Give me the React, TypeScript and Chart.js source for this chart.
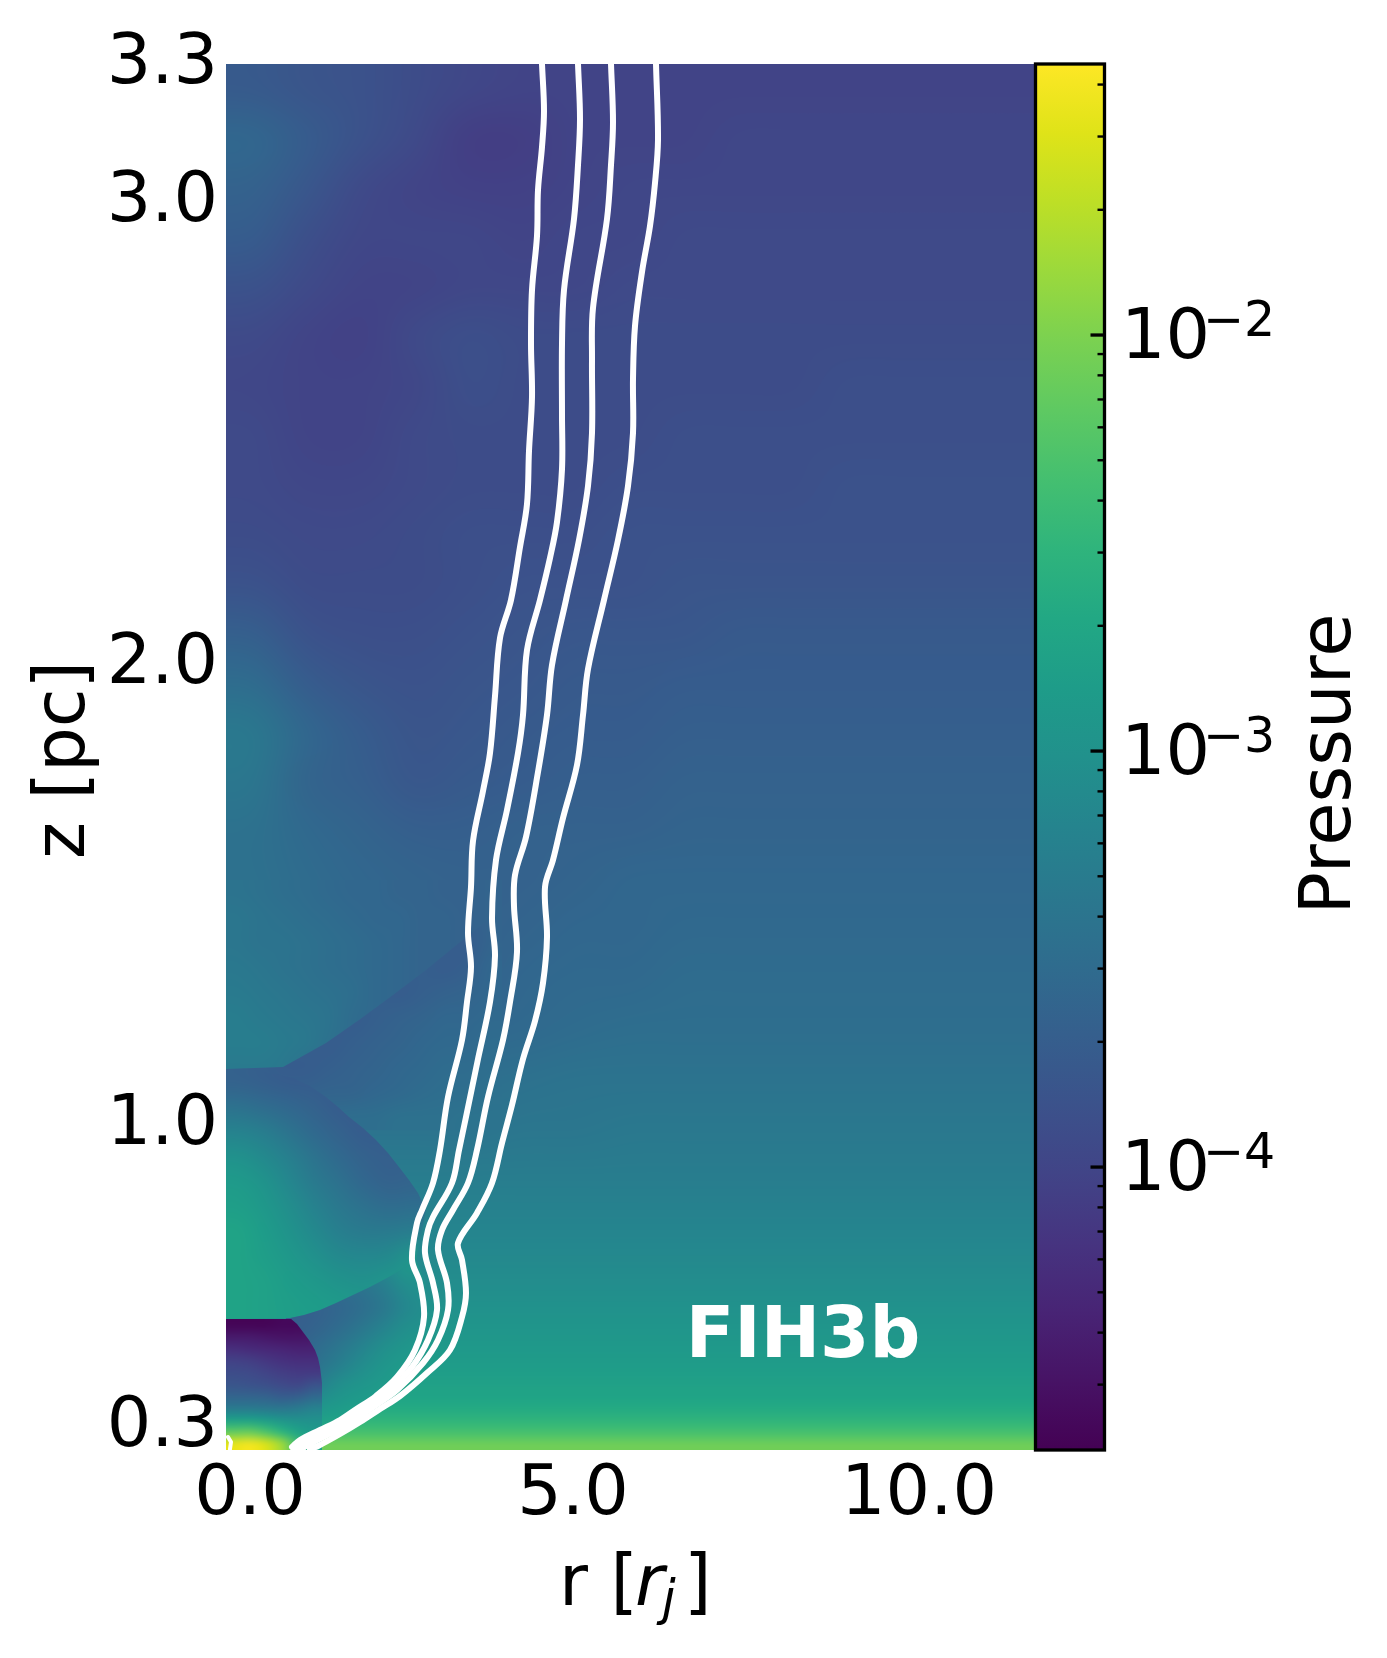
import React, { useEffect, useRef } from "react";
import { Chart, registerables } from "chart.js";

Chart.register(...registerables);

// Axis extents are in simulation grid cells (the tick labels sit on selected cells).
const gridRMax = 809;
const gridZMax = 1386;
const xTickCells = [24, 347, 693];
const xTickLabels = ["0.0", "5.0", "10.0"];
const yTickCells = [1385, 1247, 785, 324, 22];
const yTickLabels = ["3.3", "3.0", "2.0", "1.0", "0.3"];

const pressureMin = 2.089e-5;
const pressureMax = 0.04482;
const colorbarMajor = [1e-4, 1e-3, 1e-2];
const colorbarExponents = ["\u22124", "\u22123", "\u22122"];
const colorbarMinor = [3e-5, 4e-5, 5e-5, 6e-5, 7e-5, 8e-5, 9e-5, 2e-4, 3e-4, 4e-4, 5e-4, 6e-4, 7e-4, 8e-4, 9e-4, 2e-3, 3e-3, 4e-3, 5e-3, 6e-3, 7e-3, 8e-3, 9e-3, 2e-2, 3e-2, 4e-2];

const viridisStops = ["#440154", "#471365", "#482475", "#463480", "#414487", "#3b528b", "#355f8d", "#2f6c8e", "#2a788e", "#25848e", "#21918c", "#1e9c89", "#22a884", "#2fb47c", "#44bf70", "#5ec962", "#7ad151", "#9bd93c", "#bddf26", "#dfe318", "#fde725"];

// Pressure fields: percent of the colour bar's range, rows listed top to bottom.
const farField = [
  [28, 26, 25, 23, 21, 20, 20, 20, 20, 20, 20, 20, 20, 20, 20],
  [33, 29, 25, 22, 18, 18, 20, 20, 20, 21, 21, 21, 21, 21, 21],
  [31, 27, 22, 20, 19, 19, 20, 21, 21, 21, 21, 21, 21, 21, 21],
  [29, 24, 21, 21, 21, 20, 21, 21, 22, 22, 22, 22, 22, 22, 22],
  [25, 22, 20, 20, 21, 21, 21, 22, 22, 22, 22, 22, 22, 22, 22],
  [22, 20, 19, 22, 24, 23, 23, 23, 23, 23, 23, 23, 23, 23, 23],
  [21, 20, 20, 21, 24, 23, 23, 23, 23, 23, 23, 24, 24, 24, 24],
  [22, 20, 20, 22, 23, 23, 23, 23, 24, 24, 24, 24, 24, 24, 24],
  [22, 21, 21, 22, 23, 23, 23, 24, 24, 24, 24, 25, 25, 25, 25],
  [23, 22, 22, 23, 24, 24, 24, 25, 25, 25, 25, 25, 25, 25, 25],
  [25, 23, 23, 23, 24, 25, 25, 25, 26, 26, 26, 26, 26, 26, 26],
  [30, 25, 24, 24, 25, 26, 27, 27, 27, 28, 28, 28, 28, 28, 28],
  [35, 29, 26, 25, 26, 27, 28, 28, 29, 29, 29, 29, 29, 29, 29],
  [40, 33, 29, 26, 27, 28, 29, 29, 30, 30, 30, 30, 30, 30, 30],
  [39, 32, 30, 27, 28, 29, 30, 30, 31, 31, 31, 31, 31, 31, 31],
  [37, 34, 32, 30, 30, 31, 31, 31, 32, 32, 32, 32, 32, 32, 32],
  [37, 35, 33, 32, 31, 31, 32, 33, 33, 33, 33, 33, 33, 33, 33],
  [38, 36, 34, 32, 31, 32, 33, 33, 34, 34, 34, 34, 34, 34, 34],
  [38, 37, 35, 33, 31, 33, 34, 34, 35, 35, 35, 35, 35, 35, 35],
  [41, 39, 36, 32, 33, 34, 35, 36, 36, 36, 36, 36, 36, 36, 36],
  [36, 35, 34, 34, 36, 37, 38, 38, 38, 38, 38, 38, 38, 38, 38],
  [38, 38, 38, 38, 38, 39, 39, 40, 40, 40, 40, 40, 40, 40, 40],
  [42, 42, 42, 42, 42, 42, 42, 42, 42, 42, 42, 42, 42, 42, 42],
  [45, 45, 45, 45, 45, 45, 45, 45, 45, 45, 45, 45, 45, 45, 45],
  [48, 48, 48, 48, 48, 48, 48, 48, 48, 48, 48, 48, 48, 48, 48],
  [52, 52, 52, 52, 52, 52, 52, 52, 52, 52, 52, 52, 52, 52, 52],
  [56, 56, 56, 56, 56, 56, 56, 56, 56, 56, 56, 56, 56, 56, 56],
  [62, 62, 62, 62, 62, 62, 62, 62, 62, 62, 62, 62, 62, 62, 62],
];
// Low side of the oblique shock running up from the bubble.
const shoulderField = [
  [31, 31, 31, 31, 31, 31, 31, 31, 31, 31, 31, 32],
  [31, 31, 31, 31, 31, 31, 31, 31, 31, 31, 30, 32],
  [31, 31, 31, 31, 31, 31, 31, 31, 31, 30, 29, 32],
  [30, 30, 30, 30, 30, 30, 30, 30, 30, 29, 30, 33],
  [30, 30, 30, 30, 30, 30, 30, 29, 30, 31, 32, 33],
  [30, 30, 30, 30, 30, 29, 30, 31, 32, 33, 33, 34],
  [30, 30, 30, 30, 29, 30, 31, 32, 33, 34, 34, 35],
  [30, 30, 29, 29, 30, 31, 32, 33, 34, 35, 35, 36],
  [31, 31, 31, 31, 32, 32, 33, 34, 35, 36, 36, 37],
  [37, 37, 36, 35, 35, 36, 36, 37, 37, 37, 38, 38],
];
// High side of that shock.
const wedgeField = [
  [38, 37, 36, 35, 34, 33, 33, 32, 32, 31, 31, 32],
  [39, 38, 37, 36, 35, 34, 33, 33, 32, 32, 31, 32],
  [39, 38, 38, 37, 36, 35, 34, 33, 32, 32, 31, 32],
  [40, 39, 38, 37, 36, 35, 34, 33, 32, 32, 32, 32],
  [41, 40, 39, 38, 37, 36, 34, 33, 32, 32, 32, 32],
  [42, 41, 40, 39, 38, 35, 34, 33, 32, 32, 32, 32],
  [42, 42, 41, 40, 37, 35, 33, 33, 32, 32, 32, 32],
  [41, 41, 40, 37, 35, 34, 33, 33, 32, 32, 32, 32],
];
const floorField = [
  [58, 58],
  [60, 60],
  [63, 63],
  [67, 67],
  [72, 72],
  [78, 78],
];
const bubbleField = [
  [31, 30, 29, 29, 29, 31, 33, 35],
  [37, 35, 33, 31, 29, 29, 32, 35],
  [44, 42, 38, 34, 31, 29, 30, 33],
  [50, 47, 43, 38, 34, 31, 30, 31],
  [54, 51, 46, 41, 37, 33, 31, 32],
  [56, 53, 49, 44, 40, 37, 35, 36],
  [58, 55, 51, 47, 43, 41, 41, 42],
  [58, 56, 53, 50, 47, 46, 47, 52],
  [58, 57, 55, 53, 51, 50, 52, 52],
  [58, 57, 56, 55, 54, 53, 52, 52],
];
const cavityField = [
  [40, 40, 40, 42, 46, 52, 50, 46],
  [34, 34, 36, 38, 42, 48, 50, 47],
  [30, 31, 33, 36, 40, 46, 49, 48],
  [30, 32, 35, 39, 44, 49, 50, 49],
  [31, 35, 39, 44, 49, 52, 53, 50],
  [32, 38, 43, 48, 52, 54, 54, 52],
  [33, 43, 49, 52, 54, 55, 55, 55],
  [42, 50, 53, 55, 56, 57, 57, 57],
  [50, 57, 58, 60, 60, 60, 60, 62],
  [56, 64, 65, 66, 70, 70, 72, 76],
];
const domeField = [
  [1, 1, 1, 2, 2, 3],
  [7, 7, 6, 5, 5, 6],
  [13, 12, 11, 10, 9, 9],
  [19, 18, 16, 14, 13, 13],
  [23, 22, 20, 18, 17, 17],
  [26, 25, 24, 22, 21, 25],
  [32, 32, 31, 29, 30, 34],
  [41, 41, 40, 39, 41, 44],
  [57, 57, 55, 52, 50, 50],
  [76, 77, 72, 65, 58, 54],
  [96, 98, 94, 85, 68, 58],
];

// Region outlines (grid cells) of the shocked features.
const wedgeOutlineR = [0, 276, 276, 262, 233, 200, 167, 133, 100, 57, 0];
const wedgeOutlineZ = [570, 570, 545, 530, 507, 480, 455, 430, 407, 383, 381];
const bubbleOutlineR = [0, 17, 33, 50, 67, 84, 100, 112, 123, 137, 150, 162, 173, 183, 192, 200, 190, 184, 161, 144, 127, 110, 94, 78, 64, 0];
const bubbleOutlineZ = [381, 381, 379, 376, 372, 364, 353, 343, 333, 322, 310, 297, 283, 270, 257, 240, 190, 185, 172, 163, 155, 147, 140, 135, 132, 131];
const cavityOutlineR = [64, 78, 94, 110, 127, 144, 161, 184, 190, 200, 200, 190, 172, 145, 115, 75, 64, 0, 0];
const cavityOutlineZ = [132, 135, 140, 147, 155, 163, 172, 185, 190, 167, 133, 100, 73, 50, 30, 10, 0, 0, 131];
const domeOutlineR = [0, 64, 71, 77, 83, 89, 92, 94, 95, 96, 96, 0];
const domeOutlineZ = [131, 132, 126, 118, 110, 100, 92, 83, 75, 67, 0, 0];

// Field lines (grid cells).
const lineAR = [316, 318, 316, 312, 311, 306, 305, 306, 303, 301, 294, 285, 274, 269, 264, 257, 247, 245, 242, 245, 241, 236, 222, 214, 207, 196, 191, 186, 194, 198, 189, 171, 150, 129, 114, 94, 74, 66];
const lineAZ = [1386, 1339, 1303, 1260, 1214, 1160, 1106, 1053, 999, 946, 903, 850, 812, 754, 697, 659, 609, 563, 517, 483, 448, 410, 353, 300, 267, 240, 227, 190, 167, 133, 100, 73, 54, 40, 30, 20, 10, 3];
const lineBR = [352, 354, 352, 348, 338, 336, 336, 336, 331, 324, 314, 301, 297, 292, 281, 270, 266, 269, 264, 252, 240, 233, 226, 207, 202, 199, 207, 211, 202, 186, 164, 144, 124, 114, 94, 76, 70];
const lineBZ = [1386, 1331, 1285, 1231, 1160, 1106, 1035, 981, 928, 892, 850, 800, 735, 697, 640, 590, 532, 494, 448, 391, 333, 300, 267, 233, 220, 197, 167, 140, 110, 83, 60, 44, 32, 26, 15, 6, 1];
const lineCR = [385, 387, 385, 381, 367, 366, 366, 362, 353, 340, 326, 321, 312, 300, 289, 288, 291, 284, 277, 262, 251, 242, 227, 216, 212, 221, 222, 212, 197, 171, 150, 131, 114, 99, 80, 76];
const lineCZ = [1386, 1328, 1285, 1231, 1142, 1089, 1017, 964, 910, 850, 785, 735, 678, 613, 575, 544, 498, 448, 410, 353, 300, 267, 240, 220, 200, 167, 140, 110, 87, 60, 45, 32, 21, 14, 4, 1];
const lineDR = [430, 432, 429, 424, 416, 409, 407, 407, 402, 392, 378, 362, 357, 351, 337, 327, 319, 321, 317, 309, 297, 286, 276, 266, 251, 232, 236, 240, 236, 224, 201, 174, 154, 134, 114, 92, 84];
const lineDZ = [1386, 1310, 1267, 1224, 1178, 1124, 1071, 1017, 964, 910, 850, 781, 735, 685, 632, 590, 563, 513, 467, 429, 391, 345, 307, 267, 237, 207, 190, 157, 133, 100, 77, 54, 41, 28, 16, 4, 1];
const stubR = [4, 5, 2];
const stubZ = [1, 8, 13];

const tickFont = "'DejaVu Sans'";

function hexRgb(h: string) {
  return [parseInt(h.slice(1, 3), 16), parseInt(h.slice(3, 5), 16), parseInt(h.slice(5, 7), 16)];
}
function viridis(pct: number) {
  const p = (Math.max(0, Math.min(100, pct)) / 100) * (viridisStops.length - 1);
  const i = Math.min(Math.floor(p), viridisStops.length - 2);
  const a = hexRgb(viridisStops[i]);
  const b = hexRgb(viridisStops[i + 1]);
  const f = p - i;
  return [0, 1, 2].map((k) => a[k] + (b[k] - a[k]) * f);
}
function fieldImage(field: number[][]) {
  const c = document.createElement("canvas");
  c.width = field[0].length;
  c.height = field.length;
  const cx = c.getContext("2d")!;
  const img = cx.createImageData(c.width, c.height);
  field.forEach((row, j) =>
    row.forEach((v, i) => {
      const rgb = viridis(v);
      const o = (j * c.width + i) * 4;
      img.data[o] = rgb[0];
      img.data[o + 1] = rgb[1];
      img.data[o + 2] = rgb[2];
      img.data[o + 3] = 255;
    })
  );
  cx.putImageData(img, 0, 0);
  return c;
}

const fieldPlugin = {
  id: "fieldPlugin",
  beforeDatasetsDraw(chart: any) {
    const { ctx, scales, chartArea } = chart;
    const X = scales.x;
    const Y = scales.y;
    const paint = (field: number[][], r0: number, r1: number, z0: number, z1: number, outR?: number[], outZ?: number[]) => {
      ctx.save();
      ctx.beginPath();
      if (outR && outZ) {
        outR.forEach((r, i) => {
          const px = X.getPixelForValue(r);
          const py = Y.getPixelForValue(outZ[i]);
          if (i === 0) ctx.moveTo(px, py);
          else ctx.lineTo(px, py);
        });
        ctx.closePath();
      } else {
        ctx.rect(chartArea.left, chartArea.top, chartArea.right - chartArea.left, chartArea.bottom - chartArea.top);
      }
      ctx.clip();
      ctx.imageSmoothingEnabled = true;
      ctx.imageSmoothingQuality = "high";
      const x0 = X.getPixelForValue(r0);
      const x1 = X.getPixelForValue(r1);
      const y0 = Y.getPixelForValue(z1);
      const y1 = Y.getPixelForValue(z0);
      ctx.drawImage(fieldImage(field), x0, y0, x1 - x0, y1 - y0);
      ctx.restore();
    };
    paint(farField, 0, gridRMax, 0, gridZMax);
    paint(shoulderField, 0, 276, 320, 570);
    paint(wedgeField, 0, 276, 370, 570, wedgeOutlineR, wedgeOutlineZ);
    paint(floorField, 0, gridRMax, 0, 60);
    paint(bubbleField, 0, 200, 131, 381, bubbleOutlineR, bubbleOutlineZ);
    paint(cavityField, 60, 234, 0, 190, cavityOutlineR, cavityOutlineZ);
    paint(domeField, 0, 96, 0, 131, domeOutlineR, domeOutlineZ);
  },
  afterDraw(chart: any) {
    const { ctx, scales, chartArea } = chart;
    const cb = scales.cb;
    const left = 1035.5;
    const right = 1104.5;
    // colour bar
    const grad = ctx.createLinearGradient(0, chartArea.bottom, 0, chartArea.top);
    viridisStops.forEach((c, i) => grad.addColorStop(i / (viridisStops.length - 1), c));
    ctx.save();
    ctx.fillStyle = grad;
    ctx.fillRect(left, chartArea.top, right - left, chartArea.bottom - chartArea.top);
    ctx.strokeStyle = "#000";
    ctx.lineWidth = 2.4;
    colorbarMinor.forEach((v) => {
      const y = cb.getPixelForValue(v);
      ctx.beginPath();
      ctx.moveTo(right - 7, y);
      ctx.lineTo(right, y);
      ctx.stroke();
    });
    ctx.lineWidth = 3.3;
    colorbarMajor.forEach((v) => {
      const y = cb.getPixelForValue(v);
      ctx.beginPath();
      ctx.moveTo(right - 14, y);
      ctx.lineTo(right, y);
      ctx.stroke();
    });
    ctx.strokeRect(left, chartArea.top, right - left, chartArea.bottom - chartArea.top);
    // exponents of the colour bar labels
    ctx.fillStyle = "#000";
    ctx.textAlign = "left";
    ctx.textBaseline = "alphabetic";
    ctx.font = `49px ${tickFont}`;
    colorbarMajor.forEach((v, i) => {
      ctx.fillText(colorbarExponents[i], 1203, cb.getPixelForValue(v) + 1);
    });
    // axis titles
    ctx.font = `70.5px ${tickFont}`;
    ctx.fillText("r [", 559, 1605);
    ctx.fillText("]", 684, 1605);
    ctx.font = `italic 70.5px ${tickFont}`;
    ctx.fillText("r", 635, 1605);
    ctx.font = `italic 49px ${tickFont}`;
    ctx.fillText("j", 662, 1615);
    ctx.font = `70.5px ${tickFont}`;
    ctx.textAlign = "center";
    ctx.save();
    ctx.translate(84, 760);
    ctx.rotate(-Math.PI / 2);
    ctx.fillText("z [pc]", 0, 0);
    ctx.restore();
    ctx.save();
    ctx.translate(1350, 764);
    ctx.rotate(-Math.PI / 2);
    ctx.fillText("Pressure", 0, 0);
    ctx.restore();
    // run name
    ctx.fillStyle = "#fff";
    ctx.font = `bold 71px ${tickFont}`;
    ctx.fillText("FIH3b", 803, 1357);
    ctx.restore();
  },
};

const zip = (r: number[], z: number[]) => r.map((x, i) => ({ x, y: z[i] }));
const lineSet = (r: number[], z: number[], borderWidth = 6, tension = 0.35) => ({
  data: zip(r, z),
  showLine: true,
  pointRadius: 0,
  borderColor: "#ffffff",
  borderWidth,
  tension,
  borderCapStyle: "round",
  borderJoinStyle: "round",
});

const noOverflow = (s: any) => {
  s.paddingTop = 0;
  s.paddingBottom = 0;
  s.paddingLeft = 0;
  s.paddingRight = 0;
};

export default function App() {
  const ref = useRef<HTMLCanvasElement>(null);
  useEffect(() => {
    const chart = new Chart(ref.current!, {
      type: "scatter",
      data: {
        datasets: [lineSet(lineAR, lineAZ), lineSet(lineBR, lineBZ), lineSet(lineCR, lineCZ), lineSet(lineDR, lineDZ), lineSet(stubR, stubZ, 4, 0)] as any,
      },
      plugins: [fieldPlugin],
      options: {
        animation: false,
        responsive: false,
        devicePixelRatio: 1,
        layout: { padding: { top: 64, left: 0, right: 0, bottom: 0 } },
        plugins: { legend: { display: false }, tooltip: { enabled: false } },
        scales: {
          x: {
            type: "linear",
            min: 0,
            max: gridRMax,
            grid: { display: false, drawTicks: false },
            border: { display: false },
            afterBuildTicks: (s: any) => {
              s.ticks = xTickCells.map((value) => ({ value }));
            },
            afterFit: (s: any) => {
              s.height = 208;
              noOverflow(s);
            },
            ticks: {
              autoSkip: false,
              maxRotation: 0,
              padding: 4,
              color: "#000",
              font: { family: "DejaVu Sans", size: 70 },
              callback: (_v: any, i: number) => xTickLabels[i],
            },
          },
          y: {
            type: "linear",
            min: 0,
            max: gridZMax,
            grid: { display: false, drawTicks: false },
            border: { display: false },
            afterBuildTicks: (s: any) => {
              s.ticks = yTickCells.map((value) => ({ value }));
            },
            afterFit: (s: any) => {
              s.width = 226;
              noOverflow(s);
            },
            ticks: {
              autoSkip: false,
              padding: 8,
              color: "#000",
              font: { family: "DejaVu Sans", size: 70 },
              callback: (_v: any, i: number) => yTickLabels[i],
            },
          },
          cb: {
            type: "logarithmic",
            axis: "y",
            position: "right",
            min: pressureMin,
            max: pressureMax,
            grid: { display: false, drawTicks: false },
            border: { display: false },
            afterBuildTicks: (s: any) => {
              s.ticks = colorbarMajor.map((value) => ({ value }));
            },
            afterFit: (s: any) => {
              s.width = 352;
              noOverflow(s);
            },
            ticks: {
              autoSkip: false,
              padding: 86,
              labelOffset: 5,
              color: "#000",
              font: { family: "DejaVu Sans", size: 70 },
              callback: () => "10",
            },
          },
        } as any,
      },
    } as any);
    return () => chart.destroy();
  }, []);
  return (
    <div style={{ position: "absolute", left: 0, top: 0 }}>
      <canvas ref={ref} width={1387} height={1658} style={{ display: "block" }} />
    </div>
  );
}
